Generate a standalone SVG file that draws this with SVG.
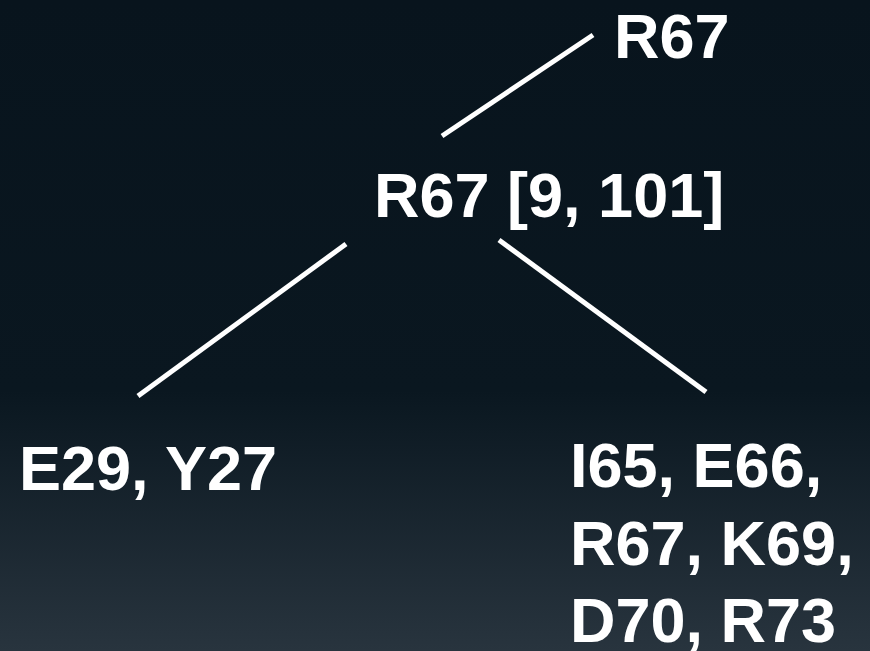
<svg xmlns="http://www.w3.org/2000/svg" width="870" height="651" viewBox="0 0 870 651">
  <defs>
    <linearGradient id="bg" x1="0" y1="0" x2="0" y2="1">
      <stop offset="0" stop-color="#08141d"/>
      <stop offset="0.6" stop-color="#0a1720"/>
      <stop offset="1" stop-color="#28343e"/>
    </linearGradient>
    <style>
      .lbl { font-family: "Liberation Sans", Arial, sans-serif; font-weight: bold; font-size: 63px; fill: #ffffff; }
      .edge { stroke: #ffffff; stroke-width: 5; fill: none; }
    </style>
  </defs>
  <rect x="0" y="0" width="870" height="651" fill="url(#bg)"/>
  <g id="connectors">
    <line class="edge" x1="442" y1="136" x2="593" y2="35"/>
    <line class="edge" x1="346" y1="244" x2="138" y2="396"/>
    <line class="edge" x1="499" y1="240" x2="706" y2="392"/>
  </g>
  <g id="node-root">
    <text class="lbl" x="614" y="58">R67</text>
  </g>
  <g id="node-mid">
    <text class="lbl" x="374" y="217">R67 [9, 101]</text>
  </g>
  <g id="node-left">
    <text class="lbl" x="19" y="490">E29, Y27</text>
  </g>
  <g id="node-right">
    <text class="lbl" x="570" y="487">I65, E66,</text>
    <text class="lbl" x="570" y="565">R67, K69,</text>
    <text class="lbl" x="570" y="642">D70, R73</text>
  </g>
</svg>
